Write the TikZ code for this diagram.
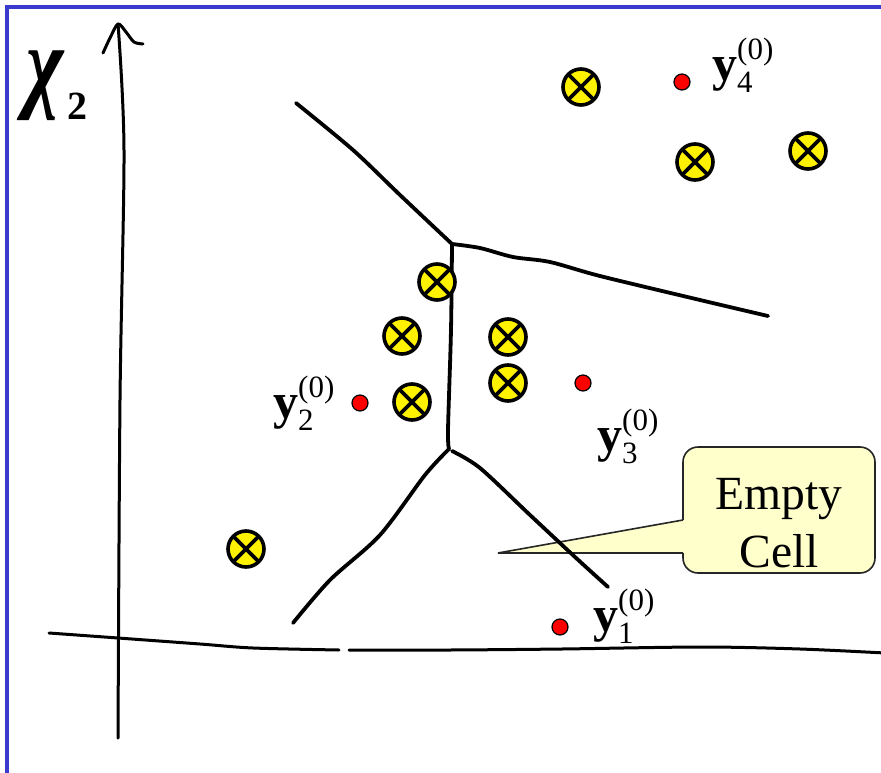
\documentclass[tikz,border=0pt]{standalone}
\usepackage{fontspec}
\setmainfont{Liberation Serif}
\usetikzlibrary{calc}
\definecolor{frameblue}{RGB}{58,58,205}
\definecolor{callfill}{RGB}{255,255,204}
\newcommand\ylab[1]{{\fontsize{50}{50}\selectfont\bfseries y}\rlap{\raisebox{21pt}{\fontsize{31}{31}\selectfont (0)}}\raisebox{-12pt}{\fontsize{31}{31}\selectfont #1}}
\tikzset{
  hand/.style={line width=3.8pt, line cap=round, line join=round},
  axisline/.style={line width=3pt, line cap=round, line join=round},
  xcirc/.style={circle, inner sep=0pt, minimum size=36pt, draw=black, line width=3.6pt, fill=yellow,
    path picture={\draw[line width=3.6pt] (path picture bounding box.north west) -- (path picture bounding box.south east)
      (path picture bounding box.north east) -- (path picture bounding box.south west);}},
  rdot/.style={circle, inner sep=0pt, minimum size=16pt, draw=black, line width=1.2pt, fill=red},
  lab/.style={anchor=base west, inner sep=0pt},
  callbox/.style={rectangle, rounded corners=15pt, draw=black!85, line width=1.6pt, fill=callfill,
    minimum width=192pt, minimum height=126pt, inner sep=0pt},
  calltext/.style={anchor=base, inner sep=0pt, font=\fontsize{47.6}{57}\selectfont},
}
\begin{document}
\begin{tikzpicture}[x=1pt,y=-1pt]
\useasboundingbox (0,0) rectangle (881,773);
\fill[white] (0,0) rectangle (881,773);
% frame
\draw[frameblue, line width=4pt] (7,780) -- (7,7) -- (890,7);
% axes
\draw[axisline] plot[smooth] coordinates {(118,738) (120,400) (124,150) (118,24)};
\draw[axisline] plot[smooth] coordinates {(103,53) (110,38) (118,24) (126,32) (134,42) (143,44)};
\draw[axisline] plot[smooth] coordinates {(49,633) (118,638) (200,644) (253,648) (339,650)};
\draw[axisline] plot[smooth] coordinates {(349,650) (450,650) (562,649) (702,647) (800,649) (885,653)};
\node[inner sep=0pt] (chi) at (45,86) {\scalebox{1}[1.3]{\fontsize{80}{80}\selectfont\bfseries\itshape χ}};
\node[inner sep=0pt] (two) at (77,106) {\fontsize{40}{40}\selectfont\bfseries 2};
% callout
\node[callbox] (cell) at (779,510) {};
\coordinate (tip) at (498,553);
\coordinate (pa) at (683,520);
\coordinate (pb) at (683,553);
\fill[callfill] (tip) -- (pa) -- ++(4,0) -- ($(pb)+(4,0)$) -- (pb) -- cycle;
\draw[black!85, line width=1.6pt, line join=miter] (pa) -- (tip) -- (pb);
\node[calltext] (t1) at (779,509) {Empty};
\node[calltext] (t2) at (779,567) {Cell};
% voronoi edges
\coordinate (v1) at (452,244);
\coordinate (v2) at (449,449);
\draw[hand] plot[smooth] coordinates {(296,103) (353,150) (400,195) (452,244)};
\draw[hand] plot[smooth] coordinates {(452,244) (480,248) (513,257) (550,262) (600,276) (700,300) (768,316)};
\draw[hand] plot[smooth] coordinates {(452,244) (451,330) (448,430) (449,449)};
\draw[hand] plot[smooth] coordinates {(449,449) (425,475) (380,535) (330,580) (293,623)};
\draw[hand] plot[smooth] coordinates {(452,451) (480,468) (530,515) (575,557) (608,587)};
% data points
\node[xcirc] (c1) at (581,87) {};
\node[xcirc] (c2) at (695,162) {};
\node[xcirc] (c3) at (808,151) {};
\node[xcirc] (c4) at (437,282) {};
\node[xcirc] (c5) at (402,336) {};
\node[xcirc] (c6) at (508,337) {};
\node[xcirc] (c7) at (412,402) {};
\node[xcirc] (c8) at (508,383) {};
\node[xcirc] (c9) at (246,549) {};
% code vectors
\node[rdot] (d4) at (682,82) {};
\node[rdot] (d2) at (360,403) {};
\node[rdot] (d3) at (583,383) {};
\node[rdot] (d1) at (560,627) {};
\node[lab] (l4) at (712,81) {\ylab{4}};
\node[lab] (l2) at (273,418) {\ylab{2}};
\node[lab] (l3) at (597,451) {\ylab{3}};
\node[lab] (l1) at (593,631) {\ylab{1}};
\end{tikzpicture}
\end{document}
